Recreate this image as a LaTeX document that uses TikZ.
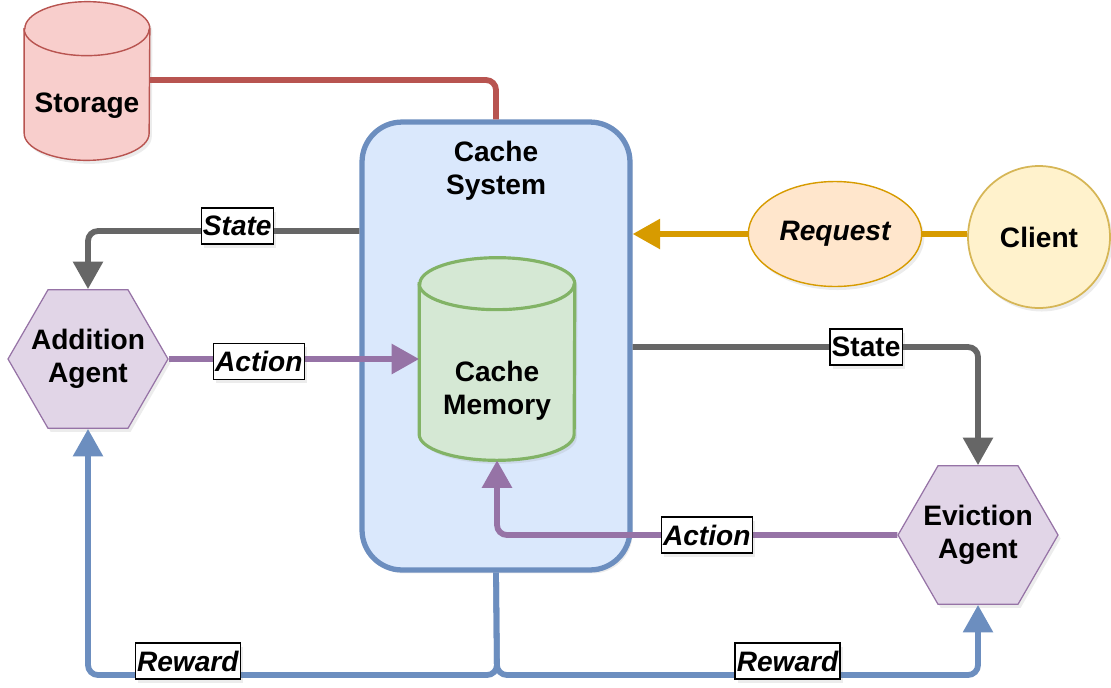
\documentclass[tikz,border=0pt]{standalone}
\usepackage{fontspec}
\setmainfont{Liberation Sans}
\usetikzlibrary{arrows.meta, positioning, shapes.geometric, shadows}
\definecolor{cgred}{HTML}{B85450}
\definecolor{cgredfill}{HTML}{F8CECC}
\definecolor{cgblue}{HTML}{6C8EBF}
\definecolor{cgbluefill}{HTML}{DAE8FC}
\definecolor{cggreen}{HTML}{82B366}
\definecolor{cggreenfill}{HTML}{D5E8D4}
\definecolor{cgpurple}{HTML}{9673A6}
\definecolor{cgpurplefill}{HTML}{E1D5E7}
\definecolor{cgorange}{HTML}{D79B00}
\definecolor{cgorangefill}{HTML}{FFE6CC}
\definecolor{cgyellow}{HTML}{D6B656}
\definecolor{cgyellowfill}{HTML}{FFF2CC}
\definecolor{cggray}{HTML}{666666}

\begin{document}
\begin{tikzpicture}[
  x=0.02cm, y=-0.02cm,
  every node/.style={font=\fontsize{16}{19}\selectfont\bfseries, align=center},
  shadowed/.style={drop shadow={opacity=0.15, shadow xshift=1.5pt, shadow yshift=-2pt}},
  agentnode/.style={regular polygon, regular polygon sides=6, minimum size=3.2cm, inner sep=0pt, draw=cgpurple, fill=cgpurplefill, line width=0.7pt, shadowed},
  flowlbl/.style={draw=black, fill=white, text=black, sharp corners, line width=0.7pt, inner xsep=1pt, inner ysep=1pt, minimum height=0.72cm, font=\fontsize{16}{19}\selectfont\bfseries\itshape, shadowed},
  link/.style={line width=3.3pt, rounded corners=0.2cm, -{Triangle[length=0.55cm, width=0.58cm]}},
]
\useasboundingbox (0,0) rectangle (1111,687);

% cache system and its memory
\node[rectangle, rounded corners=0.8cm, draw=cgblue, fill=cgbluefill, line width=3pt, minimum width=5.36cm, minimum height=8.96cm, shadowed] (cache) at (496,346) {};
\node (cachetitle) at (496,171) {Cache\\System};
\node[minimum width=3.1cm, minimum height=4.04cm, inner sep=0pt] (memory) at (497,359) {};
\draw[cggreen, fill=cggreenfill, line width=1.8pt, shadowed] ([yshift=-0.52cm]memory.north west) -- ([yshift=0.52cm]memory.south west)
  arc[start angle=180, end angle=360, x radius=1.55cm, y radius=0.52cm] -- ([yshift=-0.52cm]memory.north east)
  arc[start angle=0, end angle=180, x radius=1.55cm, y radius=0.52cm] -- cycle;
\draw[cggreen, line width=1.8pt] ([yshift=-0.52cm]memory.north west) arc[start angle=180, end angle=360, x radius=1.55cm, y radius=0.52cm];
\node (memtext) at ([yshift=-0.63cm]memory.center) {Cache\\Memory};

% storage
\node[minimum width=2.5cm, minimum height=3.16cm, inner sep=0pt] (storage) at (87,81) {};
\draw[cgred, fill=cgredfill, line width=0.8pt, shadowed] ([yshift=-0.54cm]storage.north west) -- ([yshift=0.54cm]storage.south west)
  arc[start angle=180, end angle=360, x radius=1.25cm, y radius=0.54cm] -- ([yshift=-0.54cm]storage.north east)
  arc[start angle=0, end angle=180, x radius=1.25cm, y radius=0.54cm] -- cycle;
\draw[cgred, line width=0.8pt] ([yshift=-0.54cm]storage.north west) arc[start angle=180, end angle=360, x radius=1.25cm, y radius=0.54cm];
\node (storetext) at ([yshift=-0.5cm]storage.center) {Storage};

\node[agentnode, label=center:{Addition\\Agent}] (addagent) at (88,359) {};
\node[agentnode, label=center:{Eviction\\Agent}] (evagent) at (978,535) {};

\node[ellipse, draw=cgorange, fill=cgorangefill, line width=0.8pt, minimum width=3.2cm, minimum height=2.1cm, font=\fontsize{16}{19}\selectfont\bfseries\itshape, shadowed] (request) at (835,234) {Request};
\node[circle, draw=cgyellow, fill=cgyellowfill, line width=1pt, minimum size=2.84cm, shadowed] (client) at (1039,237) {Client};

% storage link
\draw[cgred, line width=3.3pt, rounded corners=0.2cm] (storage.east |- 0,80) -| (cache.north);

% request path
\draw[cgorange, line width=3.3pt] (request.east) -- (request.east -| client.west);
\draw[link, cgorange] (request.west) -- (request.west -| cache.east);

% states
\draw[link, cggray] (cache.west |- 0,231) -| node[flowlbl, pos=0.225, yshift=0.1cm] (lstate) {State} (addagent.north);
\draw[link, cggray] (cache.east |- 0,347) -| node[flowlbl, pos=0.338, font=\fontsize{16}{19}\selectfont\bfseries] (rstate) {State} (evagent.north);

% actions
\draw[link, cgpurple] (addagent.east) -- node[flowlbl, pos=0.36, yshift=-0.05cm] (laction) {Action} (memory.west);
\draw[link, cgpurple] (evagent.west) -| node[flowlbl, pos=0.238] (raction) {Action} (memory.south);

% rewards
\coordinate (rwjoin) at (497,675);
\draw[link, cgblue] (cache.south) -- (rwjoin) -| node[flowlbl, pos=0.378, yshift=0.28cm] (lreward) {Reward} (addagent.south);
\draw[link, cgblue] (cache.south) -- (rwjoin) -| node[flowlbl, pos=0.302, yshift=0.28cm] (rreward) {Reward} (evagent.south);
\end{tikzpicture}
\end{document}
